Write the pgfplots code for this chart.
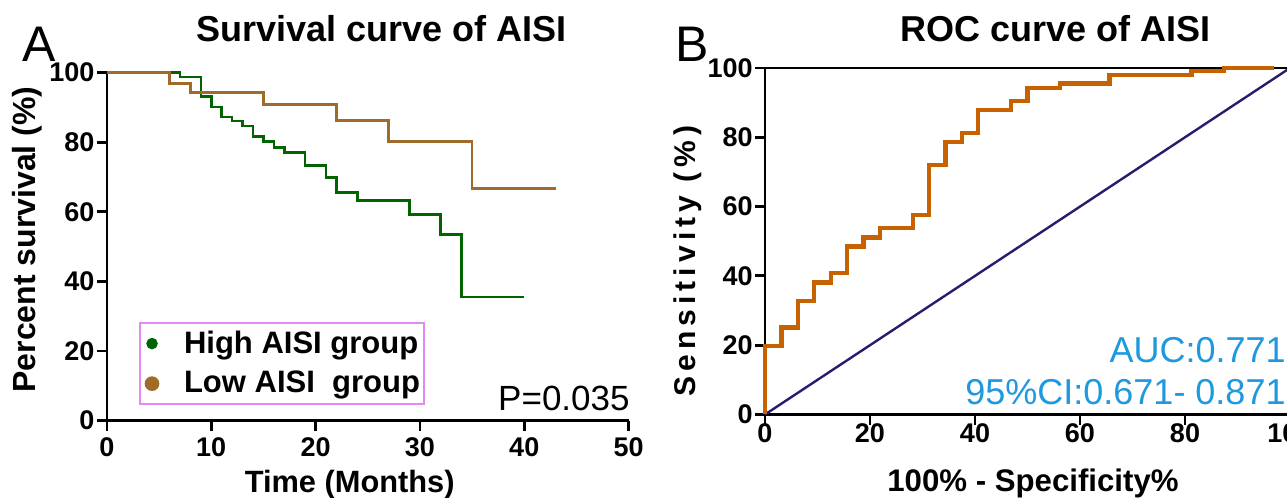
\documentclass[border=0pt]{standalone}
\usepackage{fontspec}
\setmainfont{Liberation Sans}
\newfontfamily\spaced[LetterSpace=17]{Liberation Sans}
\usepackage{pgfplots}
\pgfplotsset{compat=1.18}

\definecolor{hgreen}{RGB}{0,100,0}
\definecolor{lbrown}{RGB}{160,106,40}
\definecolor{rocor}{RGB}{198,98,0}
\definecolor{diag}{RGB}{44,26,110}
\definecolor{aucblue}{RGB}{30,152,222}
\definecolor{legpink}{RGB}{228,136,245}
\newcommand{\fs}[1]{\fontsize{#1}{#1}\selectfont}

\pgfplotsset{
  panel/.style={scale only axis, anchor=south west,
    axis line style={line width=1.4pt},
    major tick style={line width=1.4pt, black},
    major tick length=5pt, tick align=outside,
    xtick pos=bottom, ytick pos=left,
    ticklabel style={font=\bfseries\fs{13.5}},
    yticklabel style={inner xsep=1pt},
    /pgf/number format/assume math mode=true,
    clip=false}
}

\begin{document}
\begin{tikzpicture}[x=1pt,y=1pt]
\useasboundingbox (0,0) rectangle (643.5,249);
\clip (0,0) rectangle (643.5,249);

% A: survival
\begin{axis}[panel, at={(53.45pt,38.65pt)}, width=260.85pt, height=174pt,
  xmin=0, xmax=50, ymin=0, ymax=100,
  xtick={0,10,...,50}, ytick={0,20,...,100},
  axis x line*=bottom, axis y line*=left,
  legend cell align=left,
  legend style={at={(axis cs:3.08,28.4)}, anchor=north west,
    draw=legpink, line width=1pt, font=\bfseries\fs{15.5},
    inner xsep=1pt, inner ysep=1.5pt, row sep=2.5pt,
    nodes={inner xsep=1pt, inner ysep=2.5pt}}]
\addplot[const plot, hgreen, line width=1.3pt,
  legend image code/.code={\path[draw=none] (-5pt,0) -- (15pt,0); \fill[hgreen] (0,0) circle (2.2pt);}]
  coordinates {(0,100) (7,98.8) (9,93.1) (10,90.2) (11,87.3) (12,86.1) (13,84.7)
  (14,81.6) (15,80.3) (16,78.5) (17,77.0) (19,73.4) (21,69.9) (22,65.5)
  (24,63.3) (29,59.3) (32,53.5) (34,35.5) (40,35.5)};
\addplot[const plot, lbrown, line width=1.3pt,
  legend image code/.code={\path[draw=none] (-5pt,0) -- (15pt,0); \fill[lbrown] (0,0) circle (3pt);}]
  coordinates {(0,100) (6,96.9) (8,94.3) (15,90.9) (22,86.2) (27,80.2) (35,66.7) (43,66.7)};
\legend{High AISI group, Low AISI\ \ group}
\end{axis}

% B: ROC
\begin{axis}[panel, at={(382.5pt,41.75pt)}, width=262.5pt, height=173.25pt,
  xmin=0, xmax=100, ymin=0, ymax=100,
  xtick={0,20,...,100}, ytick={0,20,...,100},
  x axis line style={line width=1.8pt},
  xticklabels={\raisebox{1.8pt}{0},20,\raisebox{-2.5pt}{40},60,\raisebox{1.8pt}{80},100},
  xticklabel style={yshift=4pt}]
\addplot[diag, line width=1.2pt] coordinates {(0,0) (100,100)};
\addplot[const plot, rocor, line width=2.1pt] coordinates {
  (0,0) (0,19.8) (3.125,25.1) (6.25,32.8) (9.375,38.1) (12.5,40.8) (15.625,48.5)
  (18.75,51.1) (21.875,53.8) (28.125,57.6) (31.25,72.0) (34.375,78.6) (37.5,81.2)
  (40.625,87.9) (46.875,90.4) (50,94.3) (56.25,95.5) (65.625,97.9) (81.25,99.1)
  (87.5,100) (96.875,100)};
\end{axis}

% panel letters, titles, labels, notes
\node[anchor=base west, inner sep=0, font=\fs{25}] at (11,218) {A};
\node[anchor=base west, inner sep=0, font=\fs{25}] at (337.5,218) {B};
\node[anchor=base, inner sep=0, font=\bfseries\fs{18}] at (190.75,228) {Survival curve of AISI};
\node[anchor=base, inner sep=0, font=\bfseries\fs{18}] at (527.8,228) {ROC curve of AISI};
\node[anchor=base, inner sep=0, font=\bfseries\fs{15.4}] at (174.85,2.5) {Time (Months)};
\node[anchor=base, inner sep=0, font=\bfseries\fs{15.6}] at (516.5,3.2) {100\% - Specificity\%};
\node[anchor=base, rotate=90, inner sep=0, font=\bfseries\fs{16}] at (17.5,129.25) {Percent survival (\%)};
\node[anchor=base, rotate=90, inner sep=0, font=\spaced\bfseries\fs{15}] at (347.5,118.5) {Sensitivity (\%)};
\node[anchor=base east, inner sep=0, font=\fs{17.5}] at (315,43.5) {P=0.035};
\node[anchor=base east, inner sep=0, font=\fs{18}, text=aucblue] at (643,67.5) {AUC:0.771};
\node[anchor=base east, inner sep=0, font=\fs{18}, text=aucblue] at (643,46.5) {95\%CI:0.671- 0.871};
\end{tikzpicture}
\end{document}
